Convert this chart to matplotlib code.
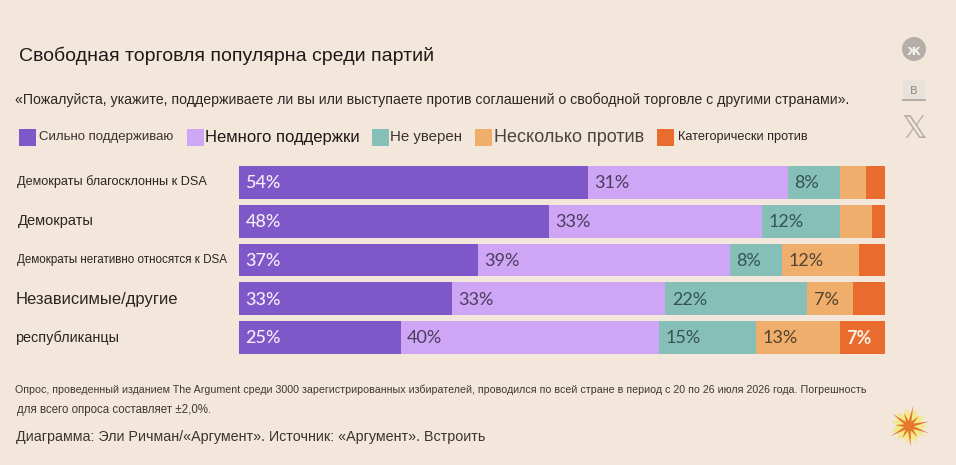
import numpy as np
import matplotlib
matplotlib.use('Agg')
import matplotlib.pyplot as plt

# rows top to bottom
groups = ['Демократы благосклонны к DSA', 'Демократы', 'Демократы негативно относятся к DSA',
          'Независимые/другие', 'республиканцы']
strong_support = [54, 48, 37, 33, 25]
some_support = [31, 33, 39, 33, 40]
not_sure = [8, 12, 8, 22, 15]
some_oppose = [4, 5, 12, 7, 13]
strong_oppose = [3, 2, 4, 5, 7]

series_names = ['Сильно поддерживаю', 'Немного поддержки', 'Не уверен', 'Несколько против', 'Категорически против']
colors = ['#7E57C9', '#CFA5F5', '#86BFB8', '#EFAE6B', '#E96B2D']
text_colors = ['#F6EEF8', '#4A3D5C', '#37544F', '#54432F', '#FBF1E6']

title = 'Свободная торговля популярна среди партий'
question = '«Пожалуйста, укажите, поддерживаете ли вы или выступаете против соглашений о свободной торговле с другими странами».'
note1 = 'Опрос, проведенный изданием The Argument среди 3000 зарегистрированных избирателей, проводился по всей стране в период с 20 по 26 июля 2026 года. Погрешность'
note2 = 'для всего опроса составляет ±2,0%.'
credit = 'Диаграмма: Эли Ричман/«Аргумент». Источник: «Аргумент». Встроить'

bg = '#F3E6DA'
sans = 'Liberation Sans'
W, H = 956, 465

fig = plt.figure(figsize=(W / 100, H / 100), dpi=100, facecolor=bg)

# overlay in pixel coords for the texts and icons
over = fig.add_axes([0, 0, 1, 1])
over.set_xlim(0, W)
over.set_ylim(H, 0)
over.axis('off')

# bars, row pitch 38.75 px and bar height 33 px
ax = fig.add_axes([239 / W, 1 - 354 / H, 646 / W, 188 / H])
ax.patch.set_alpha(0)
series = [strong_support, some_support, not_sure, some_oppose, strong_oppose]
y = np.arange(len(groups))
left = np.zeros(len(groups))
for i, vals in enumerate(series):
    ax.barh(y, vals, left=left, height=0.85, color=colors[i], linewidth=0)
    for j, v in enumerate(vals):
        if v >= 7:
            weight = 'normal'
            if i == 0:
                weight = 'medium'
            if i == 4:
                weight = 'bold'
            ax.text(left[j] + 1, j + 0.02, str(v) + '%', color=text_colors[i], fontsize=13,
                    family='Lato', weight=weight, va='center', ha='left')
    left += np.array(vals)
ax.set_xlim(0, 100)
ax.set_ylim(4.426, -0.426)
ax.axis('off')

over.text(19, 56, title, fontsize=14, family=sans, color='#1E1A18', va='center')
over.text(15, 100, question, fontsize=10.15, family=sans, color='#2B2623', va='center')

# legend, each entry has its own text size in the picture
leg_x = [19, 187, 372, 475, 657]
leg_text_x = [39, 205, 390, 494, 678]
leg_size = [9.5, 12, 10.8, 13, 9.2]
leg_color = ['#3A3430', '#1E1A18', '#3A3430', '#4A4440', '#2B2623']
for i in range(5):
    over.add_patch(plt.Rectangle((leg_x[i], 129), 17, 17, color=colors[i], linewidth=0))
    over.text(leg_text_x[i], 137, series_names[i], fontsize=leg_size[i], family=sans,
              color=leg_color[i], va='center')

# row labels
lab_x = [17, 18, 17, 16, 15]
lab_y = [182, 221, 260, 299, 338]
lab_size = [9.05, 10.5, 8.35, 12, 10.4]
for i in range(5):
    over.text(lab_x[i], lab_y[i], groups[i], fontsize=lab_size[i], family=sans,
              color='#2B2623', va='center')

over.text(15, 390, note1, fontsize=7.67, family=sans, color='#3E3834', va='center')
over.text(17, 410, note2, fontsize=8.3, family=sans, color='#3E3834', va='center')
over.text(16, 437, credit, fontsize=10.3, family=sans, color='#3A3430', va='center')

# share icons
over.add_patch(plt.Circle((914, 49), 12, color='#B5AEA8', linewidth=0))
over.text(914, 51, 'ж', fontsize=10, weight='bold', color='#F3EEE8', ha='center', va='center')
over.add_patch(plt.Rectangle((903, 80), 22, 20, color='#E9E2DA', linewidth=0))
over.plot([903, 925], [100, 100], color='#A8A19B', lw=1.2)
over.text(914, 91, 'В', fontsize=8, color='#8F8881', ha='center', va='center')
over.text(914, 129, '\U0001D54F', fontsize=23, family='DejaVu Sans', color='#B5AEA8', ha='center', va='center')

# logo star
ang = np.linspace(0, 2 * np.pi, 22, endpoint=False)
rad = np.tile([18, 12], 11)
over.fill(909 + rad * np.cos(ang), 426 + rad * np.sin(ang), color='#F3E88A', linewidth=0)
rad2 = np.tile([21, 5, 14, 5], 6)[:22]
over.fill(909 + rad2 * np.cos(ang + 0.35), 426 + rad2 * np.sin(ang + 0.35), color='#E5782B', linewidth=0)

fig.savefig('out.png', dpi=100, facecolor=bg)
